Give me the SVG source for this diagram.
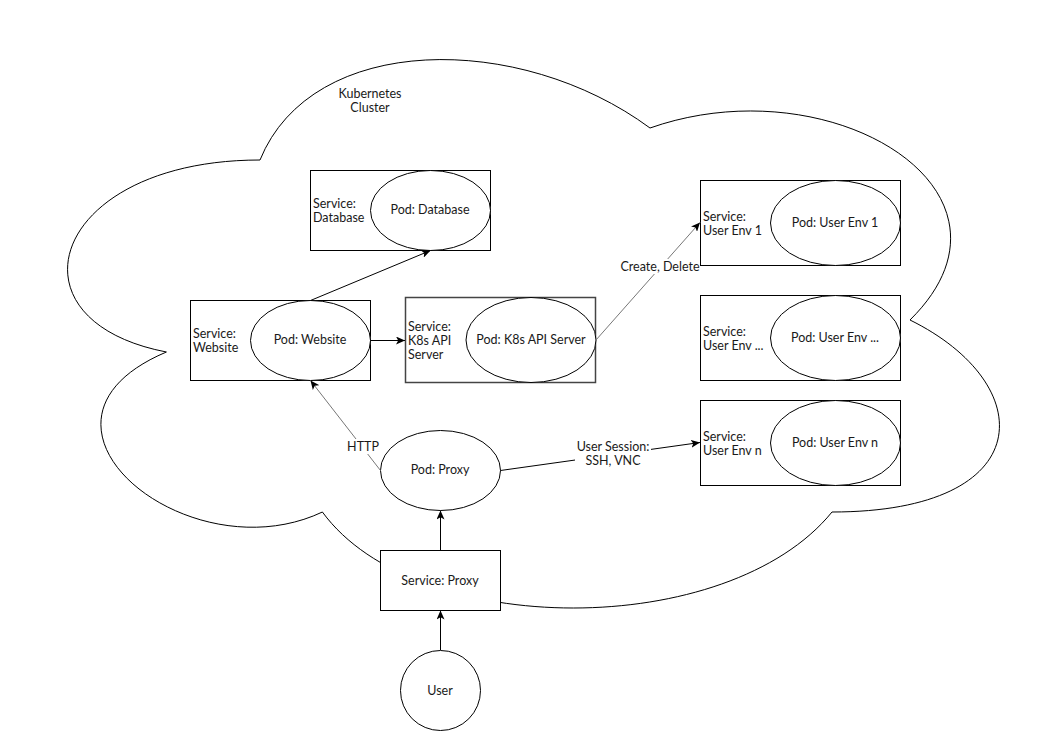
<svg xmlns="http://www.w3.org/2000/svg" width="1041" height="731" viewBox="0 0 1041 731">
<style>
text{font-family:Lato,"Liberation Sans",sans-serif;font-size:12.5px;fill:#1a1a1a}
.c{text-anchor:middle}
.box{fill:#fff;stroke:#000;stroke-width:1}
.ell{fill:#fff;stroke:#000;stroke-width:1}
.ln{fill:none;stroke:#000;stroke-width:1}
.gl{fill:none;stroke:#777;stroke-width:1}
</style>
<defs>
<marker id="arr" markerUnits="userSpaceOnUse" markerWidth="9" markerHeight="8" viewBox="0 0 9 8" refX="9" refY="4" orient="auto">
<path d="M0,0 L9,4 L0,8 L2.2,4 Z" fill="#000"/>
</marker>
</defs>
<rect width="1041" height="731" fill="#fff"/>
<g id="cluster">
<path d="M260 160 C52 160 0 320 166.4 352 C0 422.4 187.2 576 322.4 512 C416 640 728 640 832 512 C1040 512 1040 384 910 320 C1040 192 832 64 650 128 C520 32 312 32 260 160 Z" fill="#fff" stroke="#000" stroke-width="1"/>
<text class="c" x="370" y="98">Kubernetes</text>
<text class="c" x="370" y="112">Cluster</text>
</g>
<g id="svc-database">
<rect class="box" x="310.5" y="170.5" width="180" height="80"/>
<ellipse class="ell" cx="430.5" cy="210.5" rx="60" ry="40"/>
<text x="313" y="208">Service:</text>
<text x="313" y="222">Database</text>
<text class="c" x="430" y="214">Pod: Database</text>
</g>
<g id="svc-website">
<rect class="box" x="190.5" y="300.5" width="180" height="80"/>
<ellipse class="ell" cx="310.5" cy="340.5" rx="60" ry="40"/>
<text x="193" y="338">Service:</text>
<text x="193" y="352">Website</text>
<text class="c" x="310" y="344">Pod: Website</text>
</g>
<g id="svc-k8s">
<rect x="405.5" y="297.5" width="190" height="85" fill="#fff" stroke="#444" stroke-width="1.5"/>
<ellipse class="ell" cx="531" cy="340" rx="65" ry="42.5"/>
<text x="408" y="331">Service:</text>
<text x="408" y="345">K8s API</text>
<text x="408" y="359">Server</text>
<text class="c" x="531" y="344">Pod: K8s API Server</text>
</g>
<g id="svc-env1">
<rect class="box" x="700.5" y="180.5" width="200" height="85"/>
<ellipse class="ell" cx="835.5" cy="223" rx="65" ry="42.5"/>
<text x="703" y="221">Service:</text>
<text x="703" y="235">User Env 1</text>
<text class="c" x="835" y="227">Pod: User Env 1</text>
</g>
<g id="svc-envdots">
<rect class="box" x="700.5" y="295.5" width="200" height="85"/>
<ellipse class="ell" cx="835.5" cy="338" rx="65" ry="42.5"/>
<text x="703" y="336">Service:</text>
<text x="703" y="350">User Env ...</text>
<text class="c" x="835" y="342">Pod: User Env ...</text>
</g>
<g id="svc-envn">
<rect class="box" x="700.5" y="400.5" width="200" height="85"/>
<ellipse class="ell" cx="835.5" cy="443" rx="65" ry="42.5"/>
<text x="703" y="441">Service:</text>
<text x="703" y="455">User Env n</text>
<text class="c" x="835" y="447">Pod: User Env n</text>
</g>
<g id="pod-proxy">
<ellipse class="ell" cx="440.5" cy="470.5" rx="60" ry="40"/>
<text class="c" x="440" y="474">Pod: Proxy</text>
</g>
<g id="svc-proxy">
<rect class="box" x="380.5" y="550.5" width="120" height="60"/>
<text class="c" x="440" y="585">Service: Proxy</text>
</g>
<g id="user">
<circle class="ell" cx="440.5" cy="690.5" r="40"/>
<text class="c" x="440" y="695">User</text>
</g>
<g id="connectors">
<line class="ln" x1="310.5" y1="300.5" x2="430.5" y2="250.5" marker-end="url(#arr)"/>
<line class="ln" x1="370.5" y1="340.5" x2="405" y2="340.5" marker-end="url(#arr)"/>
<line class="gl" x1="596" y1="340" x2="700" y2="222.5" marker-end="url(#arr)"/>
<rect x="620" y="259" width="80" height="15" fill="#fff"/>
<text class="c" x="660" y="271">Create, Delete</text>
<line class="gl" x1="380.5" y1="470.5" x2="310.5" y2="380.5" marker-end="url(#arr)"/>
<rect x="345" y="439" width="36" height="15" fill="#fff"/>
<text class="c" x="363" y="451">HTTP</text>
<line class="ln" x1="500.5" y1="470.5" x2="700" y2="442.5" marker-end="url(#arr)"/>
<rect x="575" y="439" width="76" height="28" fill="#fff"/>
<text class="c" x="613" y="451">User Session:</text>
<text class="c" x="613" y="465">SSH, VNC</text>
<line class="ln" x1="440.5" y1="550" x2="440.5" y2="510.5" marker-end="url(#arr)"/>
<line class="ln" x1="440.5" y1="650" x2="440.5" y2="610.5" marker-end="url(#arr)"/>
</g>
</svg>
